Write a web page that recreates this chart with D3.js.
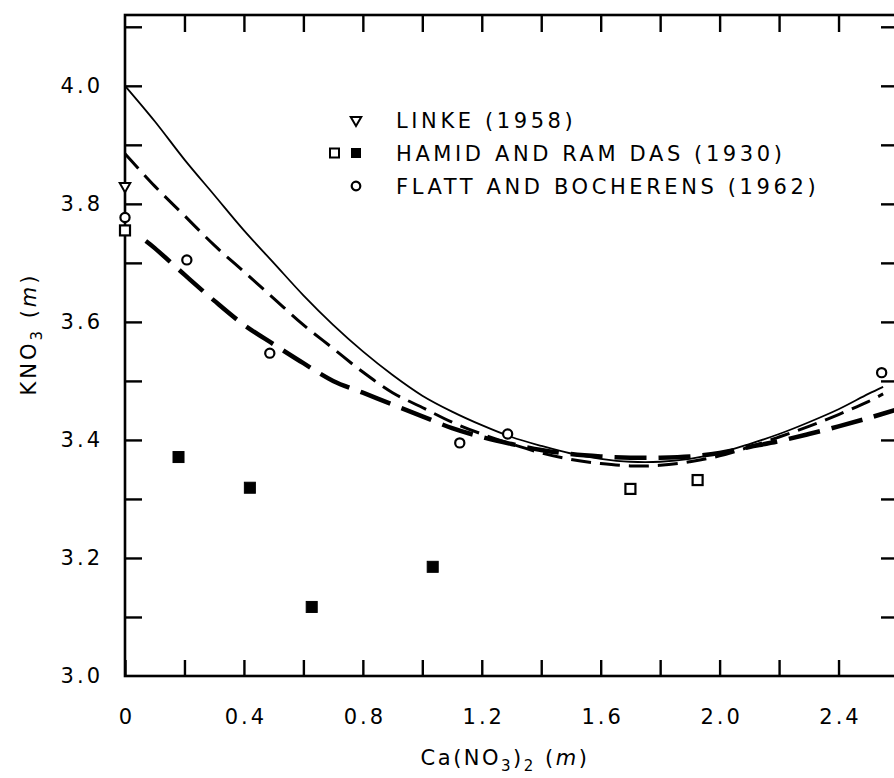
<!DOCTYPE html>
<html>
<head>
<meta charset="utf-8">
<script src="https://cdn.jsdelivr.net/npm/d3@7"></script>
<style>
  body { margin: 0; background: #fff; }
  text { font-family: "DejaVu Sans", "Liberation Sans", sans-serif; fill: #000; }
</style>
</head>
<body>
<svg id="chart" width="894" height="778"></svg>
<script>
// Solubility of KNO3 in aqueous Ca(NO3)2 at 25 °C: three model curves and literature data.

// Model curves (x = Ca(NO3)2 molality, y = KNO3 molality)
const solidX = [0, 0.1, 0.2, 0.3, 0.4, 0.5, 0.6, 0.7, 0.8, 0.9, 1.0, 1.1, 1.2, 1.3, 1.4, 1.5, 1.6, 1.7, 1.8, 1.9, 2.0, 2.1, 2.2, 2.3, 2.4, 2.5, 2.55];
const solidY = [4.0, 3.94, 3.875, 3.815, 3.755, 3.70, 3.645, 3.595, 3.55, 3.51, 3.475, 3.448, 3.425, 3.405, 3.39, 3.377, 3.368, 3.363, 3.363, 3.368, 3.378, 3.393, 3.41, 3.43, 3.452, 3.478, 3.49];

const dashX = [0, 0.1, 0.2, 0.3, 0.4, 0.5, 0.6, 0.7, 0.8, 0.9, 1.0, 1.1, 1.2, 1.3, 1.4, 1.5, 1.6, 1.7, 1.8, 1.9, 2.0, 2.1, 2.2, 2.3, 2.4, 2.5, 2.55];
const dashY = [3.885, 3.83, 3.78, 3.73, 3.685, 3.64, 3.595, 3.555, 3.515, 3.48, 3.455, 3.43, 3.41, 3.393, 3.378, 3.367, 3.36, 3.356, 3.357, 3.363, 3.373, 3.388, 3.405, 3.423, 3.443, 3.465, 3.478];

const longDashX = [0.07, 0.1, 0.2, 0.3, 0.4, 0.5, 0.6, 0.7, 0.8, 0.9, 1.0, 1.1, 1.2, 1.3, 1.4, 1.5, 1.6, 1.7, 1.8, 1.9, 2.0, 2.1, 2.2, 2.3, 2.4, 2.5, 2.6];
const longDashY = [3.737, 3.725, 3.68, 3.636, 3.595, 3.562, 3.53, 3.5, 3.48, 3.46, 3.44, 3.42, 3.405, 3.393, 3.383, 3.376, 3.372, 3.37, 3.37, 3.372, 3.378, 3.388, 3.398, 3.41, 3.423, 3.437, 3.452];

// Measurements
const linkeX = [0];
const linkeY = [3.83];
const hamidOpenX = [0, 1.70, 1.926];
const hamidOpenY = [3.755, 3.317, 3.332];
const hamidFilledX = [0.18, 0.42, 0.628, 1.035];
const hamidFilledY = [3.371, 3.319, 3.117, 3.185];
const flattX = [0, 0.208, 0.487, 1.126, 1.287, 2.545];
const flattY = [3.777, 3.705, 3.547, 3.395, 3.41, 3.514];

// Axes
const xTickValues = [0, 0.2, 0.4, 0.6, 0.8, 1.0, 1.2, 1.4, 1.6, 1.8, 2.0, 2.2, 2.4];
const xLabelValues = [0, 0.4, 0.8, 1.2, 1.6, 2.0, 2.4];
const yTickValues = [3.1, 3.2, 3.3, 3.4, 3.5, 3.6, 3.7, 3.8, 3.9, 4.0, 4.1];
const yLabelValues = [3.0, 3.2, 3.4, 3.6, 3.8, 4.0];

const legendLabels = ["LINKE (1958)", "HAMID AND RAM DAS (1930)", "FLATT AND BOCHERENS (1962)"];

const svg = d3.select("#chart");
const plotLeft = 125, plotRight = 898, plotTop = 15, plotBottom = 676;

const x = d3.scaleLinear().domain([0, 2.6]).range([plotLeft, plotRight]);
const y = d3.scaleLinear().domain([3.0, 4.12]).range([plotBottom, plotTop]);

const fmtX = v => (v === 0 ? "0" : d3.format(".1f")(v));
const fmtY = d3.format(".1f");

// ---- axes (ticks point inward on all four sides)
function styleAxis(g) {
  g.select(".domain").remove();
  g.selectAll(".tick line").attr("stroke", "#000").attr("stroke-width", 2.4);
  g.selectAll(".tick text")
    .attr("font-size", 21)
    .attr("letter-spacing", 3)
    .attr("fill", "#000");
}

svg.append("g")
  .attr("transform", `translate(0,${plotBottom})`)
  .call(d3.axisBottom(x).tickValues(xTickValues).tickSize(-16).tickPadding(33)
    .tickFormat(v => xLabelValues.some(l => Math.abs(l - v) < 1e-9) ? fmtX(v) : ""))
  .call(styleAxis)
  .call(g => g.selectAll(".tick text").attr("dx", "1.5"));

svg.append("g")
  .attr("transform", `translate(0,${plotTop})`)
  .call(d3.axisTop(x).tickValues(xTickValues.filter(v => v > 0)).tickSize(-17).tickFormat(""))
  .call(styleAxis);

svg.append("g")
  .attr("transform", `translate(${plotLeft},0)`)
  .call(d3.axisLeft(y).tickValues(yTickValues.concat([3.0])).tickSize(-17).tickPadding(22)
    .tickFormat(v => yLabelValues.some(l => Math.abs(l - v) < 1e-9) ? fmtY(v) : ""))
  .call(styleAxis)
  .call(g => g.selectAll(".tick line").filter(d => d === 3.0).remove());

svg.append("g")
  .attr("transform", `translate(${plotRight},0)`)
  .call(d3.axisRight(y).tickValues(yTickValues).tickSize(-17).tickFormat(""))
  .call(styleAxis);

// frame
svg.append("rect")
  .attr("x", plotLeft).attr("y", plotTop)
  .attr("width", plotRight - plotLeft).attr("height", plotBottom - plotTop)
  .attr("fill", "none").attr("stroke", "#000").attr("stroke-width", 2.6);

// ---- axis titles
const xTitle = svg.append("text")
  .attr("x", 505).attr("y", 765)
  .attr("text-anchor", "middle")
  .attr("font-size", 21)
  .attr("letter-spacing", 2.5);
xTitle.append("tspan").text("Ca(NO");
xTitle.append("tspan").attr("font-size", 15).attr("dy", 6).text("3");
xTitle.append("tspan").attr("dy", -6).text(")");
xTitle.append("tspan").attr("font-size", 15).attr("dy", 6).text("2");
xTitle.append("tspan").attr("dy", -6).text(" (");
xTitle.append("tspan").attr("font-style", "italic").text("m");
xTitle.append("tspan").text(")");

const yTitle = svg.append("text")
  .attr("transform", "translate(36,334) rotate(-90)")
  .attr("text-anchor", "middle")
  .attr("font-size", 21)
  .attr("letter-spacing", 3);
yTitle.append("tspan").text("KNO");
yTitle.append("tspan").attr("font-size", 15).attr("dy", 6).text("3");
yTitle.append("tspan").attr("dy", -6).text(" (");
yTitle.append("tspan").attr("font-style", "italic").text("m");
yTitle.append("tspan").text(")");

// ---- model curves
const plot = svg.append("g");
const line = d3.line().x(d => x(d[0])).y(d => y(d[1])).curve(d3.curveCatmullRom.alpha(0.5));

plot.append("path")
  .datum(d3.zip(solidX, solidY))
  .attr("d", line)
  .attr("fill", "none").attr("stroke", "#000").attr("stroke-width", 1.8);

plot.append("path")
  .datum(d3.zip(dashX, dashY))
  .attr("d", line)
  .attr("fill", "none").attr("stroke", "#000").attr("stroke-width", 3)
  .attr("stroke-dasharray", "20,9");

plot.append("path")
  .datum(d3.zip(longDashX, longDashY))
  .attr("d", line)
  .attr("fill", "none").attr("stroke", "#000").attr("stroke-width", 4.5)
  .attr("stroke-dasharray", "32,12");

// ---- markers
const tri = d3.symbol().type(d3.symbolTriangle).size(48);

function drawTriangles(g, xs, ys) {
  g.selectAll(null).data(d3.zip(xs, ys)).join("path")
    .attr("d", tri)
    .attr("transform", d => `translate(${x(d[0])},${y(d[1])}) rotate(180)`)
    .attr("fill", "#fff").attr("stroke", "#000").attr("stroke-width", 2);
}
function drawSquares(g, xs, ys, filled) {
  const s = filled ? 11 : 10;
  g.selectAll(null).data(d3.zip(xs, ys)).join("rect")
    .attr("x", d => x(d[0]) - s / 2).attr("y", d => y(d[1]) - s / 2)
    .attr("width", s).attr("height", s)
    .attr("fill", filled ? "#000" : "#fff")
    .attr("stroke", "#000").attr("stroke-width", filled ? 1 : 2.2);
}
function drawCircles(g, xs, ys) {
  g.selectAll(null).data(d3.zip(xs, ys)).join("circle")
    .attr("cx", d => x(d[0])).attr("cy", d => y(d[1])).attr("r", 4.6)
    .attr("fill", "#fff").attr("stroke", "#000").attr("stroke-width", 2.2);
}

drawSquares(plot.append("g"), hamidOpenX, hamidOpenY, false);
drawSquares(plot.append("g"), hamidFilledX, hamidFilledY, true);
drawCircles(plot.append("g"), flattX, flattY);
drawTriangles(plot.append("g"), linkeX, linkeY);

// ---- legend
const legend = svg.append("g").attr("transform", "translate(356,120)");
const rowGap = 33;

legend.selectAll("text").data(legendLabels).join("text")
  .attr("x", 40).attr("y", (d, i) => i * rowGap)
  .attr("dy", "0.36em")
  .attr("font-size", 21)
  .attr("letter-spacing", 3.6)
  .text(d => d);

legend.append("path").attr("d", tri).attr("transform", "translate(0,0) rotate(180)")
  .attr("fill", "#fff").attr("stroke", "#000").attr("stroke-width", 2);
legend.append("rect").attr("x", -26).attr("y", rowGap - 4.5).attr("width", 9).attr("height", 9)
  .attr("fill", "#fff").attr("stroke", "#000").attr("stroke-width", 2);
legend.append("rect").attr("x", -5).attr("y", rowGap - 5).attr("width", 10).attr("height", 10)
  .attr("fill", "#000");
legend.append("circle").attr("cx", 0).attr("cy", 2 * rowGap).attr("r", 4.3)
  .attr("fill", "#fff").attr("stroke", "#000").attr("stroke-width", 2.2);
</script>
</body>
</html>
